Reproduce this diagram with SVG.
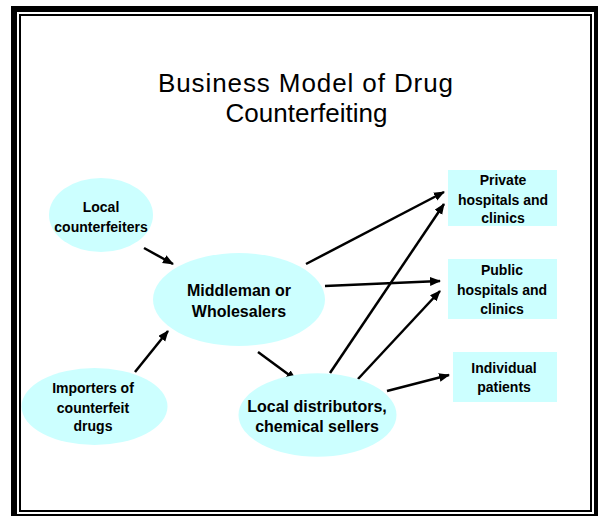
<svg xmlns="http://www.w3.org/2000/svg" width="598" height="516" viewBox="0 0 598 516">
<style>
.node{fill:#CCFFFF;stroke:none}
.lbl{font-family:"Liberation Sans",Arial,sans-serif;font-weight:bold;fill:#000;text-anchor:middle}
.s14{font-size:14px}
.s16{font-size:16px}
.title{font-family:"Liberation Sans",Arial,sans-serif;font-size:26px;fill:#000;text-anchor:middle}
.conn line{stroke:#000;stroke-width:2.5;marker-end:url(#ah)}
</style>
<defs>
<marker id="ah" markerUnits="userSpaceOnUse" markerWidth="11" markerHeight="10" refX="10" refY="4.5" orient="auto">
<path d="M0,0 L11,4.5 L0,9 z" fill="#000"/>
</marker>
</defs>
<rect x="0" y="0" width="598" height="516" fill="#fff"/>
<rect x="14" y="9" width="583" height="508" fill="none" stroke="#000" stroke-width="6"/>
<rect x="20" y="15" width="571" height="496" fill="none" stroke="#000" stroke-width="2"/>
<g id="title">
<text class="title" x="305.5" y="92" textLength="295" lengthAdjust="spacing">Business Model of Drug</text>
<text class="title" x="306.5" y="122">Counterfeiting</text>
</g>
<g class="conn" id="connectors">
<line x1="144" y1="248" x2="173" y2="264"/>
<line x1="135" y1="372" x2="168" y2="331"/>
<line x1="258" y1="352" x2="296" y2="380"/>
<line x1="306" y1="264" x2="444" y2="192"/>
<line x1="325" y1="286" x2="440" y2="281"/>
<line x1="330" y1="373" x2="444" y2="204"/>
<line x1="358" y1="379" x2="440" y2="291"/>
<line x1="387" y1="391" x2="449" y2="375"/>
</g>
<g id="local-counterfeiters">
<ellipse class="node" cx="101" cy="215" rx="52" ry="37"/>
<text class="lbl s14" x="101" y="212">Local</text>
<text class="lbl s14" x="101" y="232">counterfeiters</text>
</g>
<g id="middleman">
<ellipse class="node" cx="239" cy="299.5" rx="86" ry="46.5"/>
<text class="lbl s16" x="239" y="296">Middleman or</text>
<text class="lbl s16" x="239" y="317">Wholesalers</text>
</g>
<g id="importers">
<ellipse class="node" cx="94.5" cy="406.5" rx="73" ry="38.5"/>
<text class="lbl s14" x="93" y="393">Importers of</text>
<text class="lbl s14" x="93" y="413">counterfeit</text>
<text class="lbl s14" x="93" y="431">drugs</text>
</g>
<g id="local-distributors">
<ellipse class="node" cx="317.5" cy="415" rx="79" ry="41.7"/>
<text class="lbl s16" x="317" y="412">Local distributors,</text>
<text class="lbl s16" x="317" y="432">chemical sellers</text>
</g>
<g id="private">
<rect class="node" x="448" y="170" width="109" height="56"/>
<text class="lbl s14" x="503" y="185">Private</text>
<text class="lbl s14" x="503" y="205">hospitals and</text>
<text class="lbl s14" x="503" y="223">clinics</text>
</g>
<g id="public">
<rect class="node" x="448" y="259" width="109" height="60"/>
<text class="lbl s14" x="502" y="275">Public</text>
<text class="lbl s14" x="502" y="295">hospitals and</text>
<text class="lbl s14" x="502" y="314">clinics</text>
</g>
<g id="individual">
<rect class="node" x="453" y="352" width="104" height="50"/>
<text class="lbl s14" x="504" y="373">Individual</text>
<text class="lbl s14" x="504" y="392">patients</text>
</g>
</svg>
